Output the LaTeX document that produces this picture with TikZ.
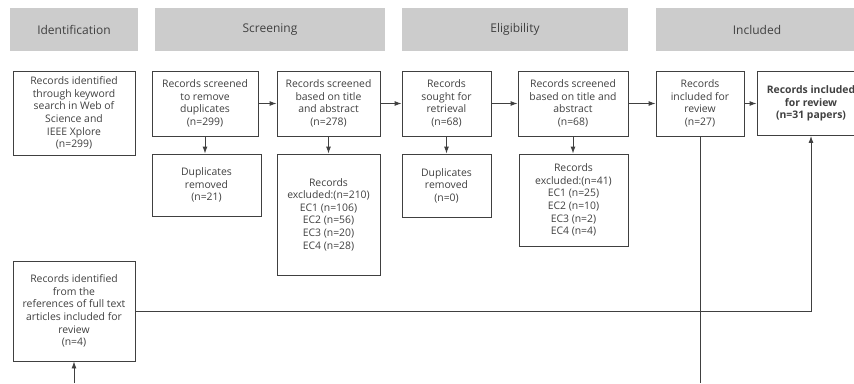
\documentclass[tikz,border=0pt]{standalone}
\usepackage{fontspec}
\setmainfont{Open Sans}
\usepackage{tikz}
\usetikzlibrary{arrows.meta}

\definecolor{inkgray}{HTML}{404040}
\definecolor{bargray}{HTML}{CCCCCC}

\begin{document}
\begin{tikzpicture}[x=1pt, y=-1pt,
		box/.style={draw=inkgray, line width=0.9pt, text=inkgray, align=center, inner sep=0pt, font=\fontsize{10.4}{12.6}\selectfont},
		phase/.style={fill=bargray, text=inkgray, inner sep=0pt, minimum height=43pt, font=\fontsize{12}{14}\selectfont},
		flow/.style={draw=inkgray, line width=0.9pt, -{Latex[length=7pt,width=5pt]}}]
		\useasboundingbox (0,0) rectangle (854,383);

		% phase bars
		\node[phase, minimum width=128pt] (identification) at (74,29.5) {Identification};
		\node[phase, minimum width=230pt] (screening) at (270,29.5) {Screening};
		\node[phase, minimum width=226pt] (eligibility) at (515,29.5) {Eligibility};
		\node[phase, minimum width=202pt] (included) at (757,29.5) {Included};

		% first row
		\node[box, minimum width=122pt, minimum height=84pt] (keyword) at (74,113) {Records identified\\through keyword\\search in Web of\\Science and\\IEEE Xplore\\(n=299)};
		\node[box, minimum width=106pt, minimum height=65pt] (dedup) at (205,103.5) {Records screened\\to remove\\duplicates\\(n=299)};
		\node[box, minimum width=103pt, minimum height=65pt] (title) at (328.5,103.5) {Records screened\\based on title\\and abstract\\(n=278)};
		\node[box, minimum width=89pt, minimum height=65pt] (sought) at (446.5,103.5) {Records\\sought for\\retrieval\\(n=68)};
		\node[box, minimum width=110pt, minimum height=65pt] (fulltext) at (573,103.5) {Records screened\\based on title and\\abstract\\(n=68)};
		\node[box, minimum width=88pt, minimum height=65pt] (incl) at (700,103.5) {Records\\included for\\review\\(n=27)};
		\node[box, minimum width=108pt, minimum height=64pt, font=\fontsize{10.4}{12.6}\selectfont\bfseries] (final) at (811,103.5) {Records included\\for review\\(n=31 papers)};

		% second row
		\node[box, minimum width=109pt, minimum height=62pt] (dupone) at (206.5,185) {Duplicates\\removed\\(n=21)};
		\node[box, minimum width=103pt, minimum height=121pt] (exclone) at (328.5,214.5) {Records\\excluded:(n=210)\\EC1 (n=106)\\EC2 (n=56)\\EC3 (n=20)\\EC4 (n=28)};
		\node[box, minimum width=89pt, minimum height=63pt] (duptwo) at (446.5,185.5) {Duplicates\\removed\\(n=0)};
		\node[box, minimum width=109pt, minimum height=92pt] (excltwo) at (573.5,200) {Records\\excluded:(n=41)\\EC1 (n=25)\\EC2 (n=10)\\EC3 (n=2)\\EC4 (n=4)};

		% third row
		\node[box, minimum width=122pt, minimum height=100pt] (refs) at (74,311) {Records identified\\from the\\references of full text\\articles included for\\review\\(n=4)};
		\coordinate (refsin) at (74,383);
		\coordinate (inclout) at (700,383);

		\draw[flow] (dedup) -- (title);
		\draw[flow] (title) -- (sought);
		\draw[flow] (sought) -- (fulltext);
		\draw[flow] (fulltext) -- (incl);
		\draw[flow] (incl) -- (final);
		\draw[flow] (dedup.south) -- (dedup.south |- dupone.north);
		\draw[flow] (title) -- (exclone);
		\draw[flow] (sought) -- (duptwo);
		\draw[flow] (fulltext.south) -- (fulltext.south |- excltwo.north);
		\draw[inkgray, line width=0.9pt] (incl) -- (inclout);
		\draw[flow] (refs.east) -| (final.south);
		\draw[flow] (refsin) -- (refs);
\end{tikzpicture}
\end{document}
